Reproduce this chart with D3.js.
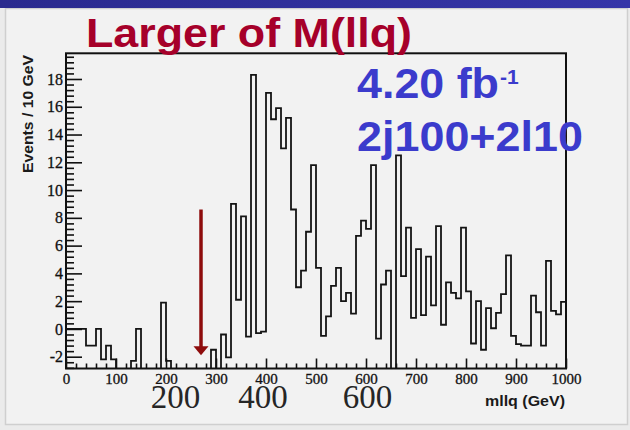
<!DOCTYPE html>
<html>
<head>
<meta charset="utf-8">
<script src="https://cdn.jsdelivr.net/npm/d3@7/dist/d3.min.js"></script>
<style>
  html, body { margin: 0; padding: 0; background: #ececec; }
  svg { display: block; }
</style>
</head>
<body>
<svg id="chart" width="630" height="430"></svg>
<script>
// ---- histogram: events per 10 GeV bin of the larger M(llq), 0 .. 1000 GeV ----
const binLow = 0;
const binHigh = 1000;
const binWidth = 10;
// bins that fall under the lower edge of the frame carry -4
const counts = [
   0,    0,    0,    0,   -1.2, -1.2,  0,   -2.2, -1.2, -2.2,   //   0 -  90
  -4,   -4,   -4,   -2.3,  0,   -4,   -4,   -4,   -4,    1.9,   // 100 - 190
  -2.3, -4,   -4,   -4,   -4,   -4,   -4,   -4,   -4,   -1.5,   // 200 - 290
  -4,   -0.4, -2.05, 9.0,  2.1,  8.1, -0.55, 18.3, -0.3, -0.2,  // 300 - 390
  17.0, 15.1, 15.9, 13.0, 15.2,  8.6,  3.0,  4.2,  7.0, 11.8,   // 400 - 490
   4.4, -0.5,  0.9,  3.1,  4.4,  2.0,  2.6,  1.1,  6.7,  7.8,   // 500 - 590
   7.2, 11.8, -0.7,  3.2,  4.2, -4,   12.5,  3.8,  7.3,  0.8,   // 600 - 690
   5.75, 1.0,  5.2,  1.7,  7.4,  0.3,  3.35, 2.6,  2.2,  7.3,   // 700 - 790
   2.7, -1.05, 2.0, -1.5,  1.5,  0.05, 1.15, 2.5,  5.3, -0.5,   // 800 - 890
  -1.1, -1.2, -1.2,  2.4,  1.2, -1.2,  4.9,  1.3,  1.05, 1.95   // 900 - 990
];

// axis settings
const xTickLabels = [0, 100, 200, 300, 400, 500, 600, 700, 800, 900, 1000];
const yTickLabels = [-2, 0, 2, 4, 6, 8, 10, 12, 14, 16, 18];
const yRange = [-2.85, 19.85];

// selection cut shown by the arrow (GeV) and its vertical extent (events)
const cutMass = 270;
const cutTop = 8.6;
const cutTip = -1.9;

// texts
const titleText = "Larger of M(llq)";
const lumiText = "4.20 fb";
const lumiExp = "-1";
const selectionText = "2j100+2l10";
const yTitle = "Events / 10 GeV";
const xTitle = "mllq (GeV)";
const overlayLabels = ["200", "400", "600"];

// ---- layout ----
const W = 630, H = 430;
const frame = { left: 66, right: 566, top: 53.3, bottom: 368.5 };
const serif = "'Liberation Serif', 'Times New Roman', serif";
const sans = "'Liberation Sans', Arial, sans-serif";

const svg = d3.select("#chart");

// slide background
const defs = svg.append("defs");
const band = defs.append("linearGradient").attr("id", "band").attr("x1", 0).attr("x2", 1).attr("y1", 0).attr("y2", 0);
band.append("stop").attr("offset", "0%").attr("stop-color", "#2a2a8e");
band.append("stop").attr("offset", "100%").attr("stop-color", "#3535a8");

svg.append("rect").attr("width", W).attr("height", H).attr("fill", "#ebebeb");
svg.append("rect").attr("x", 5.5).attr("y", 8.5).attr("width", 622).attr("height", 416)
  .attr("fill", "#f2f2f2").attr("stroke", "#cfcfcf").attr("stroke-width", 1.5);
svg.append("rect").attr("x", 0).attr("y", 0).attr("width", W).attr("height", 8).attr("fill", "url(#band)");

// scales
const x = d3.scaleLinear().domain([binLow, binHigh]).range([frame.left, frame.right]);
const y = d3.scaleLinear().domain(yRange).range([frame.bottom, frame.top]);

// clip for the histogram
defs.append("clipPath").attr("id", "plotClip").append("rect")
  .attr("x", frame.left).attr("y", frame.top)
  .attr("width", frame.right - frame.left).attr("height", frame.bottom - frame.top);

// histogram outline as a step line
const stepPoints = counts.map((v, i) => [binLow + i * binWidth, v]);
stepPoints.push([binHigh, counts[counts.length - 1]]);
const step = d3.line().x(d => x(d[0])).y(d => y(d[1])).curve(d3.curveStepAfter);
svg.append("path")
  .attr("clip-path", "url(#plotClip)")
  .attr("d", step(stepPoints))
  .attr("fill", "none")
  .attr("stroke", "#141414")
  .attr("stroke-width", 1.8);

// x axis: inward ticks, major every 100, minor every 20
const xMinor = d3.range(binLow, binHigh + 1, 20).filter(v => v % 100 !== 0);
const xAxisG = svg.append("g").attr("transform", `translate(0,${frame.bottom})`);
xAxisG.append("g").call(d3.axisBottom(x).tickValues(xMinor).tickSize(-5).tickFormat(""))
  .call(g => g.select(".domain").remove());
xAxisG.append("g").call(d3.axisBottom(x).tickValues(xTickLabels).tickSize(-10).tickPadding(5).tickFormat(d => String(d)))
  .call(g => g.select(".domain").remove())
  .call(g => g.selectAll("text").attr("font-family", serif).attr("font-size", 15)
    .attr("fill", "#111").attr("stroke", "#111").attr("stroke-width", 0.3));
xAxisG.selectAll("line").attr("stroke", "#111").attr("stroke-width", 1.6);

// y axis: inward ticks, major every 2, minor every 0.4
const yMinor = d3.range(-2.8, 19.85, 0.4).map(v => Math.round(v * 10) / 10)
  .filter(v => Math.abs(v / 2 - Math.round(v / 2)) > 1e-6);
const yAxisG = svg.append("g").attr("transform", `translate(${frame.left},0)`);
yAxisG.append("g").call(d3.axisLeft(y).tickValues(yMinor).tickSize(-8).tickFormat(""))
  .call(g => g.select(".domain").remove());
yAxisG.append("g").call(d3.axisLeft(y).tickValues(yTickLabels).tickSize(-16).tickPadding(3)
    .tickFormat(d => (d < 0 ? "-" : "") + Math.abs(d)))
  .call(g => g.select(".domain").remove())
  .call(g => g.selectAll("text").attr("font-family", serif).attr("font-size", 16)
    .attr("fill", "#111").attr("stroke", "#111").attr("stroke-width", 0.3));
yAxisG.selectAll("line").attr("stroke", "#111").attr("stroke-width", 1.6);

// frame
svg.append("rect")
  .attr("x", frame.left).attr("y", frame.top)
  .attr("width", frame.right - frame.left).attr("height", frame.bottom - frame.top)
  .attr("fill", "none").attr("stroke", "#111").attr("stroke-width", 2);

// cut arrow
const ax = x(cutMass);
const headBase = y(cutTip) - 9;
svg.append("line")
  .attr("x1", ax).attr("x2", ax).attr("y1", y(cutTop)).attr("y2", headBase + 1)
  .attr("stroke", "#8e0c0c").attr("stroke-width", 3.5);
svg.append("path")
  .attr("d", `M${ax - 7.5},${headBase} L${ax + 7.5},${headBase} L${ax},${y(cutTip)} Z`)
  .attr("fill", "#8e0c0c");

// axis titles
svg.append("text")
  .attr("transform", `translate(33,114) rotate(-90)`)
  .attr("text-anchor", "middle")
  .attr("font-family", sans).attr("font-weight", "bold").attr("font-size", 14).attr("fill", "#1a1a1a")
  .attr("textLength", 118).attr("lengthAdjust", "spacingAndGlyphs")
  .text(yTitle);
svg.append("text")
  .attr("x", 565).attr("y", 406).attr("text-anchor", "end")
  .attr("font-family", sans).attr("font-weight", "bold").attr("font-size", 14).attr("fill", "#1a1a1a")
  .attr("textLength", 80).attr("lengthAdjust", "spacingAndGlyphs")
  .text(xTitle);

// large overlay numbers under the axis
const overlayX = [175.5, 263, 367.5];
overlayLabels.forEach((t, i) => {
  svg.append("rect").attr("x", overlayX[i] - 27).attr("y", 384).attr("width", 54).attr("height", 27)
    .attr("fill", "#f2f2f2");
  svg.append("text")
    .attr("x", overlayX[i]).attr("y", 408).attr("text-anchor", "middle")
    .attr("font-family", serif).attr("font-size", 33).attr("fill", "#262626")
    .text(t);
});

// title
svg.append("text")
  .attr("x", 86).attr("y", 47)
  .attr("font-family", sans).attr("font-weight", "bold").attr("font-size", 40)
  .attr("fill", "#a6002a")
  .attr("textLength", 326).attr("lengthAdjust", "spacingAndGlyphs")
  .text(titleText);

// luminosity and selection
svg.append("text")
  .attr("x", 357).attr("y", 98)
  .attr("font-family", sans).attr("font-weight", "bold").attr("font-size", 43)
  .attr("fill", "#3b3bcc")
  .attr("textLength", 142).attr("lengthAdjust", "spacingAndGlyphs")
  .text(lumiText);
svg.append("text")
  .attr("x", 500).attr("y", 84)
  .attr("font-family", sans).attr("font-weight", "bold").attr("font-size", 21)
  .attr("fill", "#3b3bcc")
  .text(lumiExp);
svg.append("text")
  .attr("x", 357).attr("y", 151)
  .attr("font-family", sans).attr("font-weight", "bold").attr("font-size", 43)
  .attr("fill", "#3b3bcc")
  .attr("textLength", 226).attr("lengthAdjust", "spacingAndGlyphs")
  .text(selectionText);
</script>
</body>
</html>
